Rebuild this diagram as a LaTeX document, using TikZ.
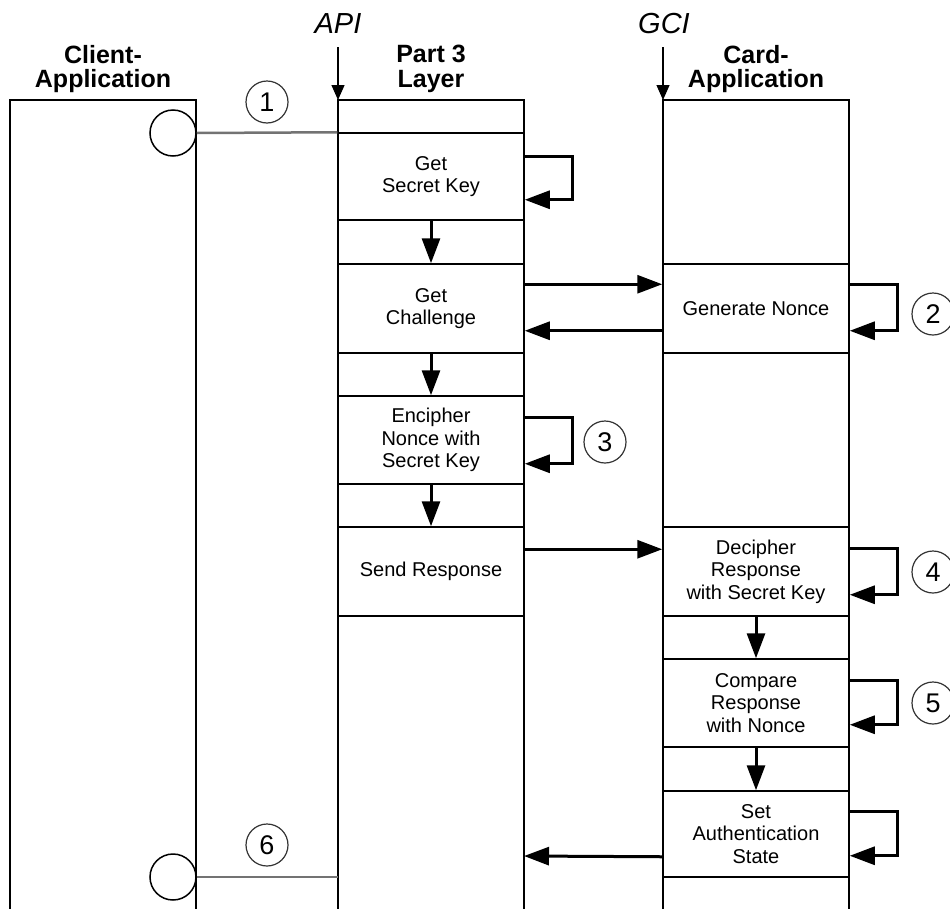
\documentclass[tikz,border=0pt]{standalone}
\usepackage{fontspec}
\setmainfont{Liberation Sans}
\usetikzlibrary{arrows.meta}
\begin{document}
\begin{tikzpicture}[x=1pt,y=-1pt,
  col/.style={line width=1.5pt},
  stepbox/.style={draw, line width=1.5pt, minimum width=186pt, inner sep=0pt, align=center, font=\fontsize{20}{22.5}\selectfont},
  flow/.style={line width=3pt, -{Triangle[length=25pt,width=18pt]}},
  num/.style={circle, draw=black!80, line width=1.2pt, minimum size=42pt, inner sep=0pt, font=\fontsize{27}{27}\selectfont},
  hdr/.style={align=center, font=\fontsize{25}{24.5}\selectfont\bfseries, inner sep=0pt},
  ifc/.style={font=\fontsize{29}{29}\selectfont\itshape, inner sep=0pt, anchor=base},
  ifcarrow/.style={line width=1.3pt, -{Triangle[length=15pt,width=13pt]}},
  port/.style={circle, draw, line width=1.5pt, minimum size=46pt, inner sep=0pt},
  link/.style={line width=2.5pt, draw=black!55},
]
\useasboundingbox (0,0) rectangle (950,908);

% columns (open at the bottom)
\draw[col] (10,912) -- (10,100) -- (196,100) -- (196,912);
\draw[col] (338,912) -- (338,100) -- (524,100) -- (524,912);
\draw[col] (663,912) -- (663,100) -- (849,100) -- (849,912);

% headers
\node[hdr] (hcl) at (103,69) {Client-\\Application};
\node[hdr] (hp3) at (431,69) {Part 3\\Layer};
\node[hdr] (hca) at (756,69) {Card-\\Application};

% interfaces
\node[ifc] (api) at (338,33) {API};
\node[ifc] (gci) at (664,33) {GCI};
\coordinate (p3top) at (338,100);
\coordinate (catop) at (663,100);
\draw[ifcarrow] ([yshift=-14pt]api.base) -- (p3top);
\draw[ifcarrow] ([yshift=-14pt,xshift=-1pt]gci.base) -- (catop);

% Part 3 layer steps
\node[stepbox, minimum height=87pt] (gsk) at (431,176.5) {Get\\Secret Key};
\node[stepbox, minimum height=89pt] (gch) at (431,308.5) {Get\\Challenge};
\node[stepbox, minimum height=88pt] (enc) at (431,440) {Encipher\\Nonce with\\Secret Key};
\node[stepbox, minimum height=89pt] (snd) at (431,571.5) {Send Response};

% Card application steps
\node[stepbox, minimum height=89pt] (gen) at (756,308.5) {Generate Nonce};
\node[stepbox, minimum height=89pt] (dec) at (756,571.5) {Decipher\\Response\\with Secret Key};
\node[stepbox, minimum height=88pt] (cmp) at (756,703) {Compare\\Response\\with Nonce};
\node[stepbox, minimum height=86pt] (set) at (756,834) {Set\\Authentication\\State};

% downward flow
\draw[flow] (gsk.south) -- (gch.north);
\draw[flow] (gch.south) -- (enc.north);
\draw[flow] (enc.south) -- (snd.north);
\draw[flow] (dec.south) -- (cmp.north);
\draw[flow] (cmp.south) -- (set.north);

% self loops
\draw[flow] ([yshift=-24pt]gsk.north east) -- ++(48,0) |- ([yshift=21pt]gsk.south east);
\draw[flow] ([yshift=-22pt]enc.north east) -- ++(48,0) |- ([yshift=21pt]enc.south east);
\draw[flow] ([yshift=-21pt]gen.north east) -- ++(48,0) |- ([yshift=23pt]gen.south east);
\draw[flow] ([yshift=-22pt]dec.north east) -- ++(48,0) |- ([yshift=22pt]dec.south east);
\draw[flow] ([yshift=-22pt]cmp.north east) -- ++(48,0) |- ([yshift=23pt]cmp.south east);
\draw[flow] ([yshift=-21pt]set.north east) -- ++(48,0) |- ([yshift=22pt]set.south east);

% between columns
\draw[flow] ([yshift=-21pt]gch.north east) -- ([yshift=-21pt]gen.north west);
\draw[flow] ([yshift=23pt]gen.south west) -- ([yshift=23pt]gch.south east);
\draw[flow] ([yshift=-23pt]snd.north east) -- ([yshift=-23pt]dec.north west);
\coordinate (p3ret) at (524,856);
\draw[flow] ([yshift=21pt]set.south west) -- (p3ret);

% client ports
\node[port] (pc1) at (173,133) {};
\node[port] (pc2) at (173,877) {};
\coordinate (p3out) at (338,877);
\draw[link] (pc1.east) -- (gsk.north west);
\draw[link] (pc2.east) -- (p3out);

% step numbers
\node[num] (n1) at (267,102) {1};
\node[num] (n2) at (933,314) {2};
\node[num] (n3) at (605,442) {3};
\node[num] (n4) at (933,572) {4};
\node[num] (n5) at (933,703) {5};
\node[num] (n6) at (267,845) {6};
\end{tikzpicture}
\end{document}
